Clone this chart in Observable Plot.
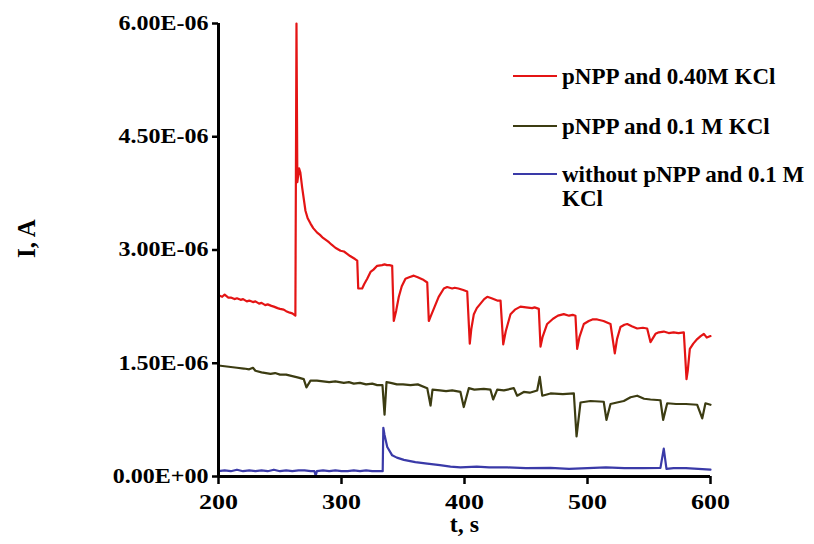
<!DOCTYPE html>
<html><head><meta charset="utf-8">
<script src="https://cdn.jsdelivr.net/npm/d3@7"></script>
<script src="https://cdn.jsdelivr.net/npm/@observablehq/plot@0.6"></script>
<style>
html,body{margin:0;padding:0;background:#fff;}
#wrap{position:relative;width:814px;height:544px;overflow:hidden;}
#legend{position:absolute;left:513px;top:0;z-index:2;font-family:"Liberation Serif","Times New Roman",serif;font-weight:bold;font-size:23px;line-height:24px;color:#000;}
.item{position:absolute;left:0;display:flex;align-items:flex-start;white-space:normal;}
.swatch{width:44px;height:2px;margin-top:10px;margin-right:5px;flex:none;}
.label{width:252px;}
</style></head>
<body><div id="wrap"><div id="legend"></div></div>
<script>
// ---- data (time in s, current in µA; axis shows A) ----
const seriesNames = ["pNPP and 0.40M KCl", "pNPP and 0.1 M KCl", "without pNPP and 0.1 M KCl"];
const seriesColors = ["#e41414", "#3c3c12", "#3a3aa8"];

const redT = [200,203,205,208,210,213,215,218,220,223,225,228,230,233,235,238,240,243,245,248,250,253,255,258,260,262.5,263.4,264.1,265.5,266.5,268,270.7,272.5,274.8,277,280.2,282.5,285,288.4,290,292,295,299.2,302,304.6,307,309,311,312.8,313.6,316.8,318.5,320.9,323.6,326,329,333,335,337,339,341.2,342.5,344.5,346.6,349,352,355,358.8,362,366,369.7,371,372.5,375,379,383.2,385.9,390,392,395,399,402.2,404.3,405.5,407.6,410,413,416,418.5,422,426.6,429.3,431.5,433.5,437.4,441,445.5,450,455,457,460.4,461.8,463.5,467.2,472,476,480.7,485,488,490.2,491.6,493.5,497,501,504,507.9,513,518.7,522.2,524,526.8,530,532.3,536,540.4,545,548.5,551.2,555.3,558,562,566,570,574,578.3,580.5,581.5,583.2,586,589.2,592,594.6,597,600];
const redI = [2.40,2.38,2.41,2.37,2.37,2.35,2.36,2.34,2.35,2.32,2.33,2.31,2.32,2.29,2.30,2.27,2.28,2.26,2.25,2.23,2.22,2.21,2.19,2.17,2.16,2.13,6.00,3.90,4.08,4.03,3.83,3.52,3.42,3.35,3.29,3.23,3.20,3.16,3.12,3.10,3.07,3.03,2.99,2.98,2.95,2.92,2.90,2.88,2.86,2.49,2.49,2.55,2.62,2.71,2.74,2.79,2.80,2.81,2.80,2.80,2.79,2.06,2.20,2.38,2.52,2.62,2.64,2.66,2.64,2.61,2.57,2.06,2.12,2.22,2.38,2.49,2.51,2.49,2.50,2.49,2.47,2.45,1.76,1.95,2.15,2.23,2.29,2.35,2.38,2.36,2.33,2.33,1.75,1.92,2.15,2.21,2.25,2.24,2.23,2.24,2.22,1.72,1.85,2.02,2.09,2.13,2.15,2.13,2.14,2.13,1.69,1.85,2.02,2.06,2.08,2.08,2.06,2.02,1.63,1.82,1.98,2.01,2.02,1.99,1.96,1.97,1.96,1.78,1.89,1.91,1.92,1.90,1.91,1.90,1.91,1.29,1.40,1.69,1.76,1.82,1.86,1.89,1.84,1.86];

const oliveT = [200,205,210,215,220.6,225,228,230,235,242.3,246,250,255,260,265,269.3,271.5,274.8,280,285,290,295,301.9,306,310,315,320,325,329,333.3,335,336.6,340,345,350,356.1,362,369.7,372.4,374,380,385,390,396.7,399.4,403.5,408,415.7,421.1,423.3,426.6,432,440.1,442.8,448.2,453,459.1,461.2,463.2,469.9,480,488.9,491.1,494.3,502.4,513.2,515.4,518.7,524,529.5,535,540.4,546,551.2,559.3,561.5,564.8,572,580,589.2,593.3,595.9,600];
const oliveI = [1.47,1.46,1.45,1.44,1.43,1.42,1.44,1.40,1.38,1.36,1.37,1.35,1.35,1.33,1.31,1.29,1.18,1.27,1.27,1.26,1.25,1.26,1.24,1.25,1.23,1.24,1.22,1.23,1.21,1.21,0.82,1.25,1.24,1.22,1.22,1.21,1.22,1.17,0.94,1.15,1.14,1.13,1.14,1.12,0.92,1.17,1.15,1.16,1.15,1.02,1.15,1.14,1.17,1.07,1.12,1.11,1.14,1.32,1.07,1.10,1.09,1.10,0.53,0.98,1.00,0.99,0.75,0.96,0.98,1.00,1.05,1.07,1.03,1.02,1.01,0.75,0.97,0.96,0.96,0.95,0.77,0.97,0.95];

const blueT = [200,205,210,215,220,225,230,235,240,245,250,255,260,265,270,275,278,279,280,285,290,295,300,305,310,315,320,325,330,333.5,334,335,337.2,341.2,345,350.7,360,369.7,380,388.6,396.7,410,420,435,450,469.9,485,500,515,530,545,559.3,562,564.2,570,580,590,600];
const blueI = [0.07,0.08,0.07,0.09,0.07,0.08,0.07,0.08,0.07,0.09,0.07,0.08,0.07,0.08,0.08,0.07,0.07,0.01,0.07,0.08,0.07,0.08,0.07,0.07,0.08,0.07,0.08,0.07,0.07,0.07,0.645,0.55,0.39,0.28,0.25,0.22,0.19,0.17,0.15,0.13,0.12,0.13,0.12,0.12,0.11,0.115,0.10,0.11,0.12,0.11,0.11,0.115,0.37,0.10,0.11,0.11,0.10,0.09];

const xTicks = [200, 300, 400, 500, 600];
const yTicks = [0, 1.5, 3, 4.5, 6];

// ---- build ----
const unit = 1e-6;
function fmtE(v) {
  const a = v * unit;
  if (a === 0) return "0.00E+00";
  const e = Math.floor(Math.log10(a) + 1e-9);
  const m = a / Math.pow(10, e);
  return m.toFixed(2) + "E" + (e < 0 ? "-" : "+") + String(Math.abs(e)).padStart(2, "0");
}
const mk = (T, I) => T.map((t, i) => ({t, I: I[i]}));
const series = [mk(redT, redI), mk(oliveT, oliveI), mk(blueT, blueI)];

const chart = Plot.plot({
  width: 814, height: 544,
  marginLeft: 218, marginRight: 104, marginTop: 23, marginBottom: 68,
  x: {domain: [200, 600]},
  y: {domain: [0, 6]},
  style: {fontFamily: "'Liberation Serif','Times New Roman',serif", fontWeight: "bold", fontSize: "20px", color: "#000", background: "#fff"},
  marks: [
    ...series.map((d, i) => Plot.line(d, {x: "t", y: "I", stroke: seriesColors[i], strokeWidth: 2.2})),
    Plot.ruleX([xTicks[0]], {stroke: "#000", strokeWidth: 3}),
    Plot.ruleY([yTicks[0]], {stroke: "#000", strokeWidth: 3}),
    Plot.axisX({ticks: xTicks, tickSize: 8, tickPadding: 10, strokeWidth: 2.5, label: null, fontSize: 20}),
    Plot.axisY({ticks: yTicks, tickFormat: fmtE, tickSize: 6, tickPadding: 4, strokeWidth: 2.5, label: null, fontSize: 20}),
    Plot.text(["t, s"], {frameAnchor: "bottom", dy: 55, fontSize: 24, fontWeight: "bold"}),
    Plot.text(["I, A"], {frameAnchor: "left", rotate: -90, dx: -192, dy: 8, fontSize: 25, fontWeight: "bold"})
  ]
});
const wrap = document.getElementById("wrap");
wrap.insertBefore(chart, wrap.firstChild);

function stretch(sel, f) {
  chart.querySelectorAll(sel).forEach(el => {
    const w = el.getComputedTextLength();
    el.setAttribute("textLength", (w * f).toFixed(1));
    el.setAttribute("lengthAdjust", "spacingAndGlyphs");
  });
}
stretch('g[aria-label="y-axis tick label"] text', 1.2);
stretch('g[aria-label="x-axis tick label"] text', 1.3);

// legend
const legend = document.getElementById("legend");
const tops = [65, 115, 163];
seriesNames.forEach((name, i) => {
  const item = document.createElement("div");
  item.className = "item";
  item.style.top = tops[i] + "px";
  const sw = document.createElement("div");
  sw.className = "swatch";
  sw.style.background = seriesColors[i];
  const lb = document.createElement("div");
  lb.className = "label";
  lb.textContent = name;
  item.appendChild(sw); item.appendChild(lb);
  legend.appendChild(item);
});
</script></body></html>
